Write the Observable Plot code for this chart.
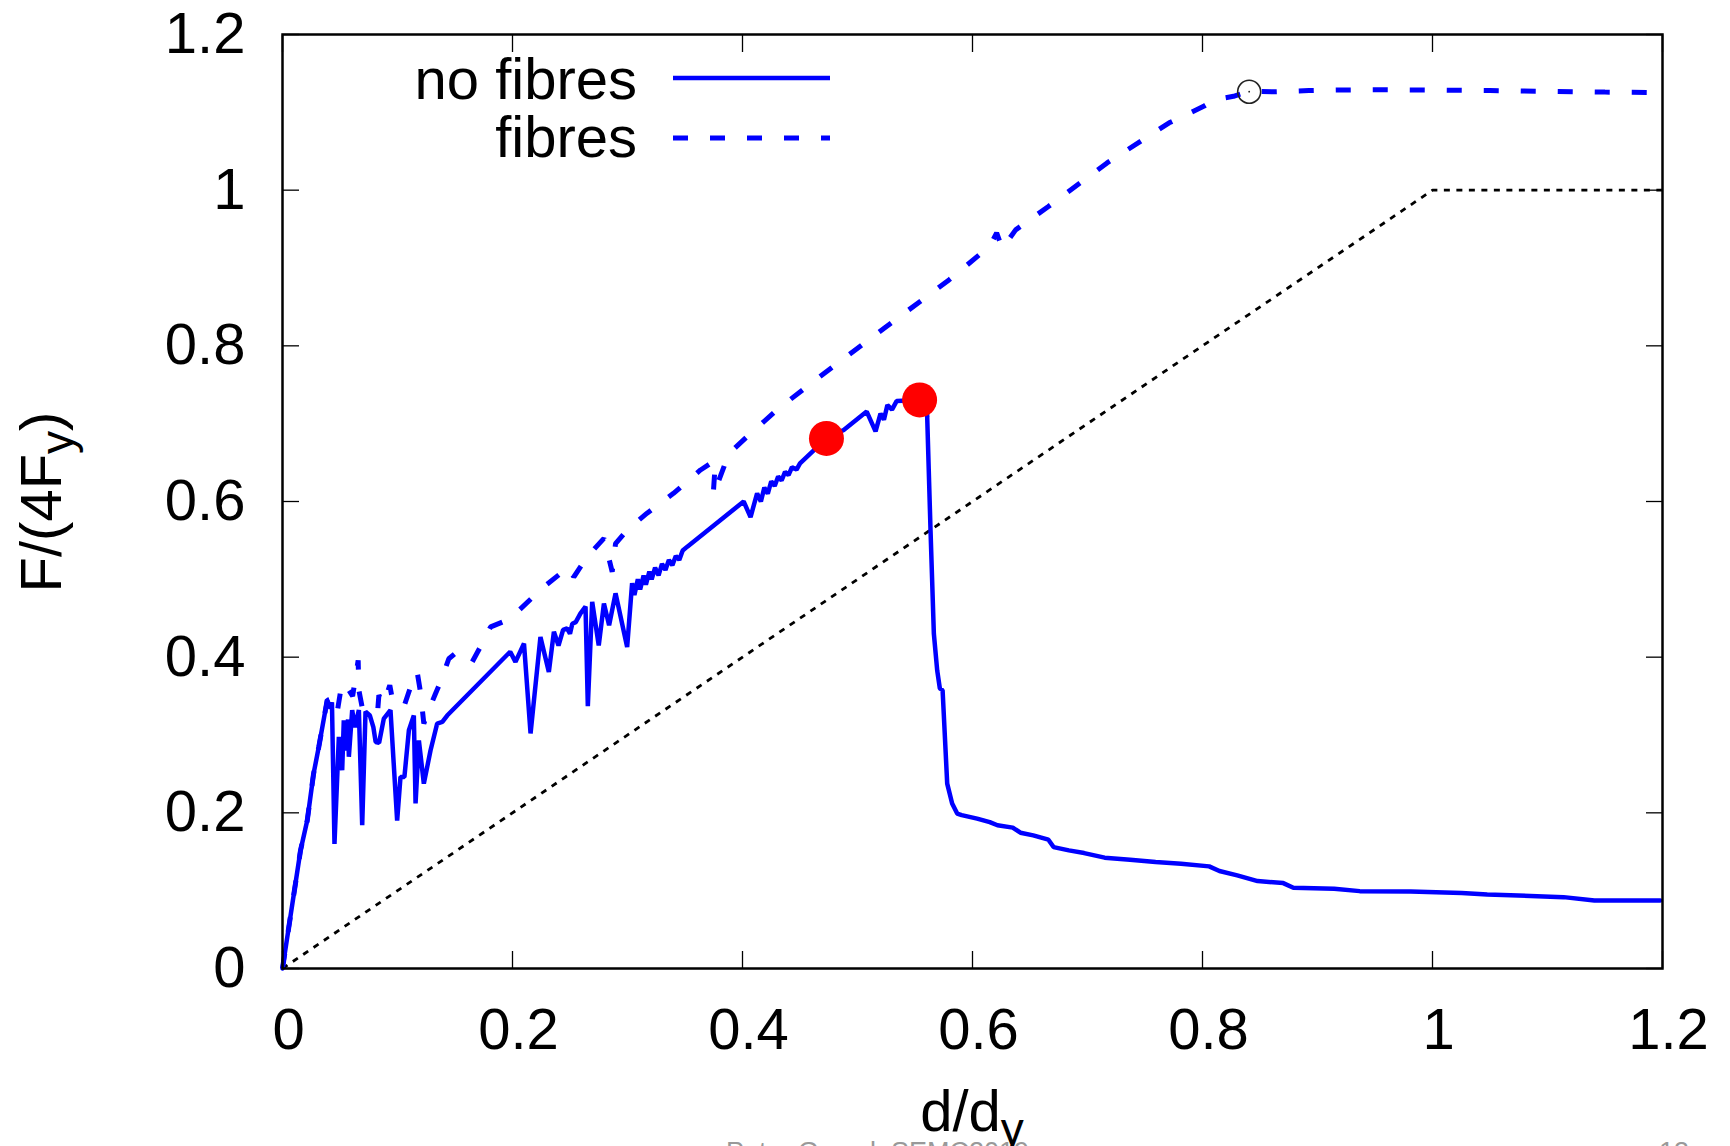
<!DOCTYPE html>
<html><head><meta charset="utf-8">
<script src="https://cdn.jsdelivr.net/npm/d3@7"></script>
<script src="https://cdn.jsdelivr.net/npm/@observablehq/plot@0.6"></script>
<style>
html,body{margin:0;padding:0;background:#fff;}
#chart{position:relative;width:1730px;height:1146px;overflow:hidden;}
</style></head><body><div id="chart"></div>
<script>
// ---- data ----
const xTicks = [0, 0.2, 0.4, 0.6, 0.8, 1, 1.2];
const yTicks = [0, 0.2, 0.4, 0.6, 0.8, 1, 1.2];
const seriesNames = ["no fibres", "fibres"];

const noFibresX = [0,0.0157,0.0215,0.027,0.0316,0.0389,0.0417,0.043,0.0452,0.049,0.0519,0.0533,0.0555,0.057,0.0577,0.0606,0.063,0.0664,0.0693,0.0722,0.076,0.079,0.081,0.084,0.0881,0.0939,0.0997,0.1026,0.106,0.1099,0.1142,0.1157,0.1186,0.1229,0.1287,0.1345,0.139,0.1432,
  0.198,0.2026,0.21,0.2157,0.2243,0.2316,0.236,0.240,0.244,0.2475,0.25,0.252,0.255,0.259,0.2635,0.2655,0.2693,0.275,0.2795,0.284,0.2896,0.2997,0.304,0.306,0.309,0.311,0.314,0.316,0.319,0.321,0.324,0.327,0.330,0.333,0.336,0.339,0.342,0.345,0.348,0.352,
  0.401,0.407,0.4127,0.416,0.419,0.422,0.425,0.428,0.431,0.434,0.437,0.440,0.443,0.447,0.450,0.473,0.488,0.508,0.5157,0.520,0.523,0.526,0.530,0.534,0.554,0.5605,
  0.5606,0.5635,0.5664,0.5693,0.5716,0.574,0.578,0.5823,0.5867,0.5906,0.604,0.615,0.6217,0.635,0.6417,0.6528,0.666,0.6705,0.6838,0.6971,0.7149,0.737,0.7592,0.7814,0.8058,0.8147,0.8302,0.8479,0.8702,0.879,0.9145,0.9367,0.981,1.0254,1.0476,1.114,1.1408,1.198];
const noFibresY = [0,0.152,0.19,0.25,0.285,0.345,0.334,0.342,0.16,0.2975,0.2547,0.319,0.28,0.32,0.272,0.332,0.31,0.332,0.184,0.33,0.325,0.31,0.291,0.29,0.321,0.332,0.19,0.246,0.246,0.306,0.325,0.212,0.293,0.2375,0.28,0.3147,0.3168,0.325,
  0.407,0.394,0.4175,0.302,0.426,0.381,0.4326,0.415,0.435,0.437,0.43,0.443,0.445,0.456,0.465,0.337,0.471,0.415,0.469,0.441,0.482,0.413,0.495,0.48,0.50,0.487,0.505,0.493,0.51,0.50,0.515,0.505,0.52,0.512,0.525,0.518,0.53,0.525,0.537,0.542,
  0.600,0.580,0.6105,0.60,0.618,0.61,0.626,0.62,0.632,0.627,0.638,0.634,0.644,0.641,0.649,0.681,0.692,0.7155,0.690,0.713,0.705,0.724,0.718,0.729,0.7305,0.7326,
  0.709,0.563,0.430,0.383,0.360,0.3575,0.2375,0.212,0.199,0.197,0.1925,0.188,0.184,0.181,0.1745,0.171,0.1655,0.156,0.1518,0.1483,0.1424,0.1398,0.1367,0.1347,0.1312,0.1252,0.1196,0.1123,0.1097,0.1038,0.1025,0.0994,0.099,0.0969,0.0952,0.0917,0.0875,0.0875];

const fibresX = [0,0.0157,0.0215,0.027,0.0316,0.0389,0.0461,0.0476,0.0504,0.0548,0.0577,0.061,0.0658,0.0664,0.07,0.075,0.0829,0.0838,0.088,0.0933,0.0954,0.0997,0.1055,0.1128,0.1171,0.12,0.1229,0.128,0.133,0.1374,0.1446,0.1519,0.1577,0.165,0.1737,0.181,0.1954,0.204,0.2272,0.249,0.2533,0.265,0.2795,0.2867,0.2896,0.2997,0.317,0.340,0.3635,0.3765,0.3745,0.384,0.387,0.404,0.430,0.456,0.4788,0.529,0.5798,0.615,0.621,0.626,0.6375,0.666,0.717,0.771,0.801,0.8107,0.827,0.8406,0.8606,0.8925,0.924,0.956,1.0,1.05,1.1,1.15,1.2];
const fibresY = [0,0.152,0.19,0.25,0.285,0.345,0.3447,0.3297,0.3554,0.368,0.3576,0.35,0.396,0.3576,0.33,0.335,0.334,0.351,0.34,0.364,0.347,0.345,0.336,0.368,0.381,0.355,0.3147,0.335,0.353,0.368,0.398,0.407,0.4026,0.394,0.4176,0.439,0.4476,0.458,0.4904,0.516,0.503,0.529,0.5527,0.5097,0.546,0.5633,0.585,0.6105,0.6405,0.653,0.608,0.645,0.66,0.6834,0.7177,0.7477,0.7734,0.829,0.885,0.928,0.945,0.925,0.949,0.979,1.035,1.0865,1.1077,1.1164,1.1206,1.127,1.1263,1.128,1.1288,1.129,1.1286,1.128,1.127,1.126,1.1255];

const refX = [0, 1, 1.2];
const refY = [0, 1, 1];

const redX = [0.473, 0.554];
const redY = [0.681, 0.7305];

const circleX = [0.8406];
const circleY = [1.1265];

// ---- build tables ----
const zip = (xs, ys) => xs.map((x, i) => ({x, y: ys[i]}));
const noFibres = zip(noFibresX, noFibresY);
const fibres = zip(fibresX, fibresY);
const ref = zip(refX, refY);
const red = zip(redX, redY);
const circ = zip(circleX, circleY);

const BLUE = "#0000ff";
const fmt = d => String(d);

const plot = Plot.plot({
  width: 1730,
  height: 1146,
  marginLeft: 282,
  marginRight: 68,
  marginTop: 34,
  marginBottom: 178,
  x: {domain: [0, 1.2]},
  y: {domain: [0, 1.2]},
  style: {fontFamily: "'Liberation Sans', Arial, sans-serif", fontSize: "58px", background: "#fff", color: "#000", overflow: "visible"},
  marks: [
    Plot.line(ref, {x: "x", y: "y", stroke: "#000", strokeWidth: 2.8, strokeDasharray: "6,6.5", strokeLinecap: "butt"}),
    Plot.line(fibres, {x: "x", y: "y", stroke: BLUE, strokeWidth: 5, strokeDasharray: "15,22", strokeLinecap: "butt", strokeLinejoin: "miter"}),
    Plot.line(noFibres, {x: "x", y: "y", stroke: BLUE, strokeWidth: 4.5, strokeLinejoin: "miter"}),
    Plot.dot(red, {x: "x", y: "y", r: 17.5, fill: "#ff0000"}),
    Plot.dot(circ, {x: "x", y: "y", r: 11.5, stroke: "#222", strokeWidth: 1.6, fill: "none"}),
    Plot.dot(circ, {x: "x", y: "y", r: 0.9, fill: "#222"}),
    Plot.frame({stroke: "#000", strokeWidth: 2.5}),
    // labels
    Plot.axisX(xTicks, {anchor: "bottom", tickSize: 0, tickPadding: 39, dx: 6, tickFormat: fmt, label: null}),
    Plot.axisY(yTicks, {anchor: "left", tickSize: 0, tickPadding: 37, tickFormat: fmt, label: null}),
    // inward mirrored tick marks
    Plot.axisX(xTicks, {anchor: "bottom", tickSize: 17, dy: -17, strokeWidth: 1.3, tickFormat: () => "", label: null}),
    Plot.axisX(xTicks, {anchor: "top", tickSize: 17, dy: 17, strokeWidth: 1.3, tickFormat: () => "", label: null}),
    Plot.axisY(yTicks, {anchor: "left", tickSize: 17, dx: 17, strokeWidth: 1.3, tickFormat: () => "", label: null}),
    Plot.axisY(yTicks, {anchor: "right", tickSize: 17, dx: -17, strokeWidth: 1.3, tickFormat: () => "", label: null})
  ]
});

document.getElementById("chart").appendChild(plot);

// ---- legend, axis titles with subscripts, footer ----
const svg = d3.select(plot);
const g = svg.append("g").attr("font-family", "'Liberation Sans', Arial, sans-serif").attr("fill", "#000").attr("text-anchor", "start");

g.append("text").attr("x", 637).attr("y", 99).attr("text-anchor", "end").attr("font-size", 58).text(seriesNames[0]);
g.append("text").attr("x", 637).attr("y", 157).attr("text-anchor", "end").attr("font-size", 58).text(seriesNames[1]);
g.append("line").attr("x1", 673).attr("x2", 830).attr("y1", 78).attr("y2", 78)
  .attr("stroke", BLUE).attr("stroke-width", 4.5);
g.append("line").attr("x1", 673).attr("x2", 830).attr("y1", 138).attr("y2", 138)
  .attr("stroke", BLUE).attr("stroke-width", 5).attr("stroke-dasharray", "15,22");

// x axis title d/d_y
const xt = g.append("text").attr("x", 972).attr("y", 1131).attr("text-anchor", "middle").attr("font-size", 58);
xt.append("tspan").text("d/d");
xt.append("tspan").attr("font-size", 46).attr("dy", 14).text("y");

// y axis title F/(4F_y)
const yt = g.append("text").attr("transform", "translate(61,502) rotate(-90)").attr("text-anchor", "middle").attr("font-size", 58);
yt.append("tspan").text("F/(4F");
yt.append("tspan").attr("font-size", 46).attr("dy", 12).text("y");
yt.append("tspan").attr("dy", -12).text(")");

// footer (cut off at the bottom of the page)
g.append("text").attr("x", 726).attr("y", 1161).attr("text-anchor", "start").attr("font-size", 27).attr("fill", "#999").text("Peter Grassl, SEMC2019");
g.append("text").attr("x", 1659).attr("y", 1161).attr("text-anchor", "start").attr("font-size", 27).attr("fill", "#999").text("13");
</script>
</body></html>
